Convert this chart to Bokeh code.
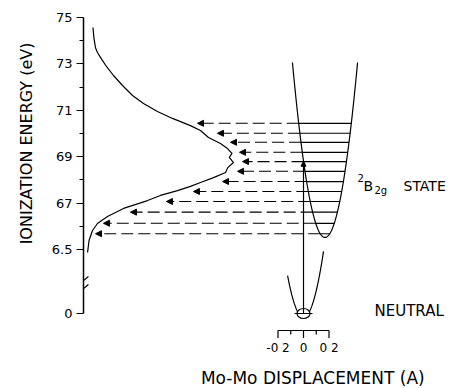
import numpy as np
from bokeh.plotting import figure
from bokeh.models import (Range1d, LinearAxis, FixedTicker, Title, Arrow,
                          NormalHead, ColumnDataSource)
from bokeh.core.properties import value
from bokeh.embed import file_html
from bokeh.resources import INLINE

# ---------------- data ----------------
# photoelectron band (relative intensity, ionization energy in eV)
spec_intensity = [0.063, 0.070, 0.080, 0.093, 0.113, 0.153, 0.200, 0.260, 0.327,
                  0.400, 0.493, 0.593, 0.713, 0.780, 0.833, 0.913, 0.960, 0.990,
                  0.972, 1.000, 0.962, 0.947, 0.867, 0.780, 0.713, 0.627, 0.513,
                  0.427, 0.267, 0.160, 0.093, 0.060, 0.037, 0.027]
spec_energy = [7.457, 7.409, 7.370, 7.349, 7.328, 7.289, 7.250, 7.207, 7.164,
               7.129, 7.095, 7.065, 7.034, 7.013, 6.983, 6.957, 6.935, 6.914,
               6.897, 6.875, 6.853, 6.832, 6.810, 6.789, 6.772, 6.754, 6.733,
               6.711, 6.677, 6.642, 6.612, 6.582, 6.539, 6.487]

# vibrational levels of the 2B2g ion state (eV) and where each arrow points
level_energy = [7.044, 7.001, 6.962, 6.919, 6.879, 6.837, 6.793, 6.750,
                6.707, 6.661, 6.613, 6.568]
arrow_tip_intensity = [0.760, 0.893, 0.980, 1.040, 1.060, 1.027, 0.927,
                       0.733, 0.553, 0.313, 0.133, 0.080]

# ionization-energy axis
y_major_ticks = [7.5, 7.3, 7.1, 6.9, 6.7, 6.5]
y_major_labels = ["75", "73", "71", "69", "67", "6.5"]
y_minor_ticks = [7.4, 7.2, 7.0, 6.8, 6.6]
zero_label = "0"

# Mo-Mo displacement scale (Angstrom)
disp_ticks = [-0.2, 0.0, 0.2]
disp_labels = ["-0 2", "0", "0 2"]
disp_minor = [-0.1, 0.1]

# potential wells
ion_min_disp = 0.1686      # A
ion_min_energy = 6.552     # eV
ion_top_energy = 7.306     # eV
well_curvature = 11.56     # eV / A^2
neutral_disp_lo = -0.125
neutral_disp_hi = 0.157
neutral_zero_point = 0.017  # eV above the neutral minimum

# ---------------- layout constants ----------------
ZERO_POS = 6.2241          # where "0" sits on the broken energy axis
D_ORIGIN = 1.4667          # x of zero displacement (intensity units)
D_SCALE = 0.85             # intensity units per Angstrom
X_MAX = 2.5
Y_MIN, Y_MAX = 5.9009, 7.5733

def dx(d):
    return D_ORIGIN + np.asarray(d) * D_SCALE

p = figure(width=458, height=388, output_backend="svg", toolbar_location=None,
           x_range=Range1d(0, X_MAX), y_range=Range1d(Y_MIN, Y_MAX),
           x_axis_type=None, y_axis_type=None,
           min_border_left=83, min_border_right=0, min_border_top=0,
           min_border_bottom=0)
p.outline_line_color = None
p.background_fill_color = "white"
p.border_fill_color = "white"

# energy axis
yaxis = LinearAxis(
    ticker=FixedTicker(ticks=[ZERO_POS] + y_major_ticks, minor_ticks=y_minor_ticks),
    major_label_overrides={**{t: l for t, l in zip(y_major_ticks, y_major_labels)},
                           ZERO_POS: zero_label},
    bounds=(ZERO_POS, 7.5),
    axis_line_color="black", axis_line_width=1.5,
    major_tick_in=0, major_tick_out=7, major_tick_line_color="black",
    major_tick_line_width=1.2,
    minor_tick_in=0, minor_tick_out=4, minor_tick_line_color="black",
    major_label_standoff=4,
    major_label_text_font="DejaVu Sans", major_label_text_font_size="13px",
    major_label_text_color="black",
)
p.add_layout(yaxis, "left")
p.add_layout(Title(text="IONIZATION ENERGY (eV)", align="right", offset=42,
                   vertical_align="middle",
                   text_font="DejaVu Sans", text_font_size="16px",
                   text_font_style="normal", text_color="black", standoff=23),
             "left")

# axis break marks
brk = ColumnDataSource(dict(x0=[-0.033, -0.033], y0=[6.3664 - 0.0172, 6.3319 - 0.0172],
                            x1=[0.033, 0.033], y1=[6.3664 + 0.0172, 6.3319 + 0.0172]))
p.add_layout(Arrow(source=brk, x_start="x0", y_start="y0", x_end="x1", y_end="y1",
                   end=None, line_color="black", line_width=1.2))

# spectrum
p.line(spec_intensity, spec_energy, line_color="black", line_width=1.2)

# ion potential well
half = np.sqrt((ion_top_energy - ion_min_energy) / well_curvature)
d = np.linspace(ion_min_disp - half, ion_min_disp + half, 120)
p.line(dx(d), ion_min_energy + well_curvature * (d - ion_min_disp) ** 2,
       line_color="black", line_width=1.2)

lev = np.array(level_energy)
lw = np.sqrt((lev - ion_min_energy) / well_curvature)
p.segment(x0=dx(ion_min_disp - lw), y0=lev, x1=dx(ion_min_disp + lw), y1=lev,
          line_color="black", line_width=1.2)

# transition arrows
asrc = ColumnDataSource(dict(xs=dx(ion_min_disp - lw), ys=lev,
                             xe=arrow_tip_intensity, ye=lev))
p.add_layout(Arrow(source=asrc, x_start="xs", y_start="ys", x_end="xe", y_end="ye",
                   end=NormalHead(size=6, fill_color="black", line_color="black",
                                  line_width=1),
                   line_color="black", line_width=1.1, line_dash="12 5"))

# neutral well
dn = np.linspace(neutral_disp_lo, neutral_disp_hi, 80)
n_min = ZERO_POS - neutral_zero_point
p.line(dx(dn), n_min + well_curvature * dn ** 2, line_color="black", line_width=1.2)
p.ellipse(x=[D_ORIGIN], y=[ZERO_POS], width=0.0867, height=0.0431,
          fill_color="white", line_color="black", line_width=1.2)
p.segment(x0=[D_ORIGIN - 0.06], y0=[ZERO_POS], x1=[D_ORIGIN + 0.06], y1=[ZERO_POS],
          line_color="black", line_width=1.2)

# vertical (Franck-Condon) line
e_cross = ion_min_energy + well_curvature * ion_min_disp ** 2
vsrc = ColumnDataSource(dict(xs=[D_ORIGIN], ys=[ZERO_POS], xe=[D_ORIGIN], ye=[e_cross]))
p.add_layout(Arrow(source=vsrc, x_start="xs", y_start="ys", x_end="xe", y_end="ye",
                   end=NormalHead(size=5, fill_color="black", line_color="black",
                                  line_width=1),
                   line_color="black", line_width=1.2))

# displacement scale bar
E_BAR = 6.1509
p.segment(x0=[dx(disp_ticks[0])], y0=[E_BAR], x1=[dx(disp_ticks[-1])], y1=[E_BAR],
          line_color="black", line_width=1.2)
p.segment(x0=dx(disp_ticks), y0=[E_BAR] * 3, x1=dx(disp_ticks), y1=[E_BAR - 0.032] * 3,
          line_color="black", line_width=1.2)
p.segment(x0=dx(disp_minor), y0=[E_BAR] * 2, x1=dx(disp_minor), y1=[E_BAR - 0.017] * 2,
          line_color="black", line_width=1.2)
p.text(x=dx(disp_ticks), y=[6.0776] * 3, text=disp_labels, text_font=value("DejaVu Sans"),
       text_font_size="12px", text_align="center", text_baseline="middle",
       text_color="black")

# labels
font = value("DejaVu Sans")
p.text(x=[1.8267], y=[6.8103], text=["2"], text_font=font, text_font_size="10px",
       text_align="left", text_baseline="alphabetic", text_color="black")
p.text(x=[1.8667], y=[6.7737], text=["B"], text_font=font, text_font_size="14px",
       text_align="left", text_baseline="alphabetic", text_color="black")
p.text(x=[1.94], y=[6.7543], text=["2g"], text_font=font, text_font_size="10px",
       text_align="left", text_baseline="alphabetic", text_color="black")
p.text(x=[2.1333], y=[6.7737], text=["STATE"], text_font=font, text_font_size="14px",
       text_align="left", text_baseline="alphabetic", text_color="black")
p.text(x=[1.94], y=[6.2328], text=["NEUTRAL"], text_font=font, text_font_size="15px",
       text_align="left", text_baseline="middle", text_color="black")
p.text(x=[1.5467], y=[5.9483], text=["Mo-Mo  DISPLACEMENT (A)"], text_font=font,
       text_font_size="17px", text_align="center", text_baseline="alphabetic",
       text_color="black")

open("out.html", "w").write(file_html(p, INLINE))
